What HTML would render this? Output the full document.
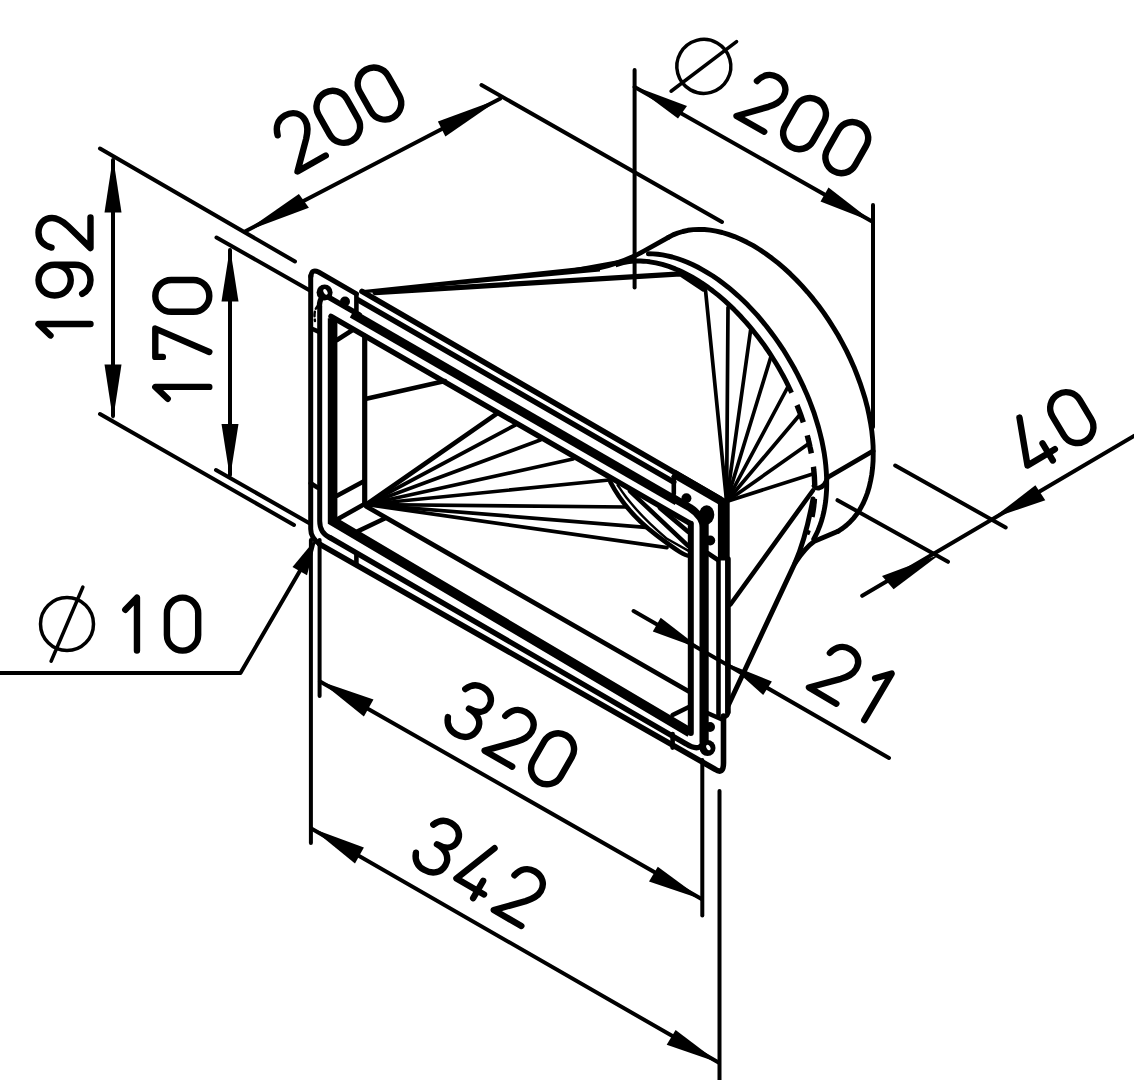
<!DOCTYPE html>
<html><head><meta charset="utf-8"><title>Drawing</title>
<style>
html,body{margin:0;padding:0;background:#fff;font-family:"Liberation Sans",sans-serif;}
svg{display:block;}
</style></head>
<body>
<svg width="1134" height="1080" viewBox="0 0 1134 1080" stroke="#000" fill="none">
<line x1="100.0" y1="148.5" x2="295.0" y2="261.5" stroke-width="4.0" stroke-linecap="round" />
<line x1="481.5" y1="85.0" x2="722.0" y2="222.0" stroke-width="4.0" stroke-linecap="round" />
<line x1="245.0" y1="231.5" x2="500.0" y2="98.8" stroke-width="4.0" stroke-linecap="round" />
<polygon points="245.0,231.5 298.9,194.0 308.9,207.8" fill="#000" stroke="none"/>
<polygon points="500.5,98.5 437.9,121.4 445.4,136.4" fill="#000" stroke="none"/>
<line x1="100.0" y1="414.0" x2="294.0" y2="525.0" stroke-width="4.0" stroke-linecap="round" />
<line x1="113.0" y1="160.0" x2="113.0" y2="416.0" stroke-width="4.0" stroke-linecap="round" />
<polygon points="113.0,157.0 104.5,212.5 121.5,212.5" fill="#000" stroke="none"/>
<polygon points="113.0,420.0 104.5,364.5 121.5,364.5" fill="#000" stroke="none"/>
<line x1="216.5" y1="237.5" x2="309.0" y2="290.0" stroke-width="4.0" stroke-linecap="round" />
<line x1="216.0" y1="470.0" x2="309.0" y2="523.0" stroke-width="4.0" stroke-linecap="round" />
<line x1="230.0" y1="250.0" x2="230.0" y2="475.0" stroke-width="4.0" stroke-linecap="round" />
<polygon points="230.0,247.5 221.5,301.5 238.5,301.5" fill="#000" stroke="none"/>
<polygon points="230.0,478.0 221.5,424.0 238.5,424.0" fill="#000" stroke="none"/>
<line x1="634.6" y1="70.0" x2="634.6" y2="287.5" stroke-width="4.0" stroke-linecap="round" />
<line x1="873.0" y1="205.0" x2="873.0" y2="427.0" stroke-width="4.0" stroke-linecap="round" />
<line x1="634.6" y1="87.0" x2="873.0" y2="222.0" stroke-width="4.0" stroke-linecap="round" />
<polygon points="635.0,86.5 687.0,106.0 678.0,118.5" fill="#000" stroke="none"/>
<polygon points="873.0,222.0 828.5,187.5 820.5,201.5" fill="#000" stroke="none"/>
<line x1="837.5" y1="500.2" x2="948.0" y2="561.8" stroke-width="4.0" stroke-linecap="round" />
<line x1="895.2" y1="465.5" x2="1005.7" y2="527.5" stroke-width="4.0" stroke-linecap="round" />
<line x1="862.2" y1="595.8" x2="1134.0" y2="435.9" stroke-width="4.0" stroke-linecap="round" />
<polygon points="939.7,554.6 882.0,576.0 893.6,589.2" fill="#000" stroke="none"/>
<polygon points="992.5,518.3 1035.4,485.3 1045.3,500.2" fill="#000" stroke="none"/>
<line x1="633.6" y1="611.0" x2="889.0" y2="757.9" stroke-width="4.0" stroke-linecap="round" />
<polygon points="701.5,649.3 652.8,631.5 660.7,617.7" fill="#000" stroke="none"/>
<polygon points="728.6,664.1 771.9,681.4 763.2,694.9" fill="#000" stroke="none"/>
<line x1="319.6" y1="540.0" x2="319.6" y2="696.0" stroke-width="4.0" stroke-linecap="round" />
<line x1="702.3" y1="760.0" x2="702.3" y2="915.5" stroke-width="4.0" stroke-linecap="round" />
<line x1="320.0" y1="681.5" x2="702.0" y2="899.2" stroke-width="4.0" stroke-linecap="round" />
<polygon points="320.2,681.3 373.5,699.4 363.9,716.5" fill="#000" stroke="none"/>
<polygon points="702.3,899.4 657.8,866.8 649.0,881.6" fill="#000" stroke="none"/>
<line x1="310.9" y1="540.0" x2="310.9" y2="843.0" stroke-width="4.0" stroke-linecap="round" />
<line x1="719.5" y1="791.0" x2="719.5" y2="1080.0" stroke-width="4.0" stroke-linecap="round" />
<line x1="311.3" y1="828.5" x2="719.0" y2="1062.8" stroke-width="4.0" stroke-linecap="round" />
<polygon points="311.7,828.3 363.9,847.5 355.0,863.5" fill="#000" stroke="none"/>
<polygon points="718.9,1062.8 675.6,1030.0 666.7,1044.8" fill="#000" stroke="none"/>
<path d="M0,673 L240.5,673 L301,569" stroke-width="4.0" stroke-linecap="butt" stroke-linejoin="round" fill="none" />
<polygon points="316.8,537.8 292.5,567.0 307.0,575.2" fill="#000" stroke="none"/>
<g transform="translate(297.5,171.5) rotate(-29.5) scale(5.500)" fill="none" stroke-width="1.164" stroke-linecap="round" stroke-linejoin="round"><path transform="translate(0,-10)" d="M0.1,2.5 C0.5,0.9 1.6,0 3.0,0 C4.7,0 5.8,1.1 5.8,2.6 C5.8,3.8 5.2,4.6 4.3,5.6 L0,10 L5.9,10"/><path transform="translate(8.4,-10)" d="M0,2.95 A2.95,2.95 0 0 1 5.9,2.95 L5.9,7.05 A2.95,2.95 0 0 1 0,7.05 Z"/><path transform="translate(17.0,-10)" d="M0,2.95 A2.95,2.95 0 0 1 5.9,2.95 L5.9,7.05 A2.95,2.95 0 0 1 0,7.05 Z"/></g>
<g transform="translate(90.5,338.6) rotate(-90) scale(5.200)" fill="none" stroke-width="1.231" stroke-linecap="round" stroke-linejoin="round"><path transform="translate(0,-10)" d="M0.6,2.3 L2.8,0 L2.8,10"/><path transform="translate(8.3,-10)" d="M5.9,3.1 C5.9,1.3 4.6,0 2.95,0 C1.3,0 0,1.3 0,3.1 C0,4.9 1.3,6.2 2.95,6.2 C4.6,6.2 5.9,4.9 5.9,3.1 L5.9,7 C5.9,8.8 4.7,10 2.95,10 C1.7,10 0.8,9.4 0.3,8.4"/><path transform="translate(17.4,-10)" d="M0.1,2.5 C0.5,0.9 1.6,0 3.0,0 C4.7,0 5.8,1.1 5.8,2.6 C5.8,3.8 5.2,4.6 4.3,5.6 L0,10 L5.9,10"/></g>
<g transform="translate(209.3,402.0) rotate(-90) scale(5.400)" fill="none" stroke-width="1.185" stroke-linecap="round" stroke-linejoin="round"><path transform="translate(0,-10)" d="M0.6,2.3 L2.8,0 L2.8,10"/><path transform="translate(8.35,-10)" d="M0,1.4 L0,0 L5.25,0 L0.9,10"/><path transform="translate(16.7,-10)" d="M0,2.95 A2.95,2.95 0 0 1 5.9,2.95 L5.9,7.05 A2.95,2.95 0 0 1 0,7.05 Z"/></g>
<g transform="translate(736.5,116.0) rotate(29.6) scale(5.400)" fill="none" stroke-width="1.185" stroke-linecap="round" stroke-linejoin="round"><path transform="translate(-14.8,-10)" d="M0,5 A5,5 0 1 1 10,5 A5,5 0 1 1 0,5 Z M2.0,12.0 L8.0,-2.0" stroke-width="0.648"/><path transform="translate(0,-10)" d="M0.1,2.5 C0.5,0.9 1.6,0 3.0,0 C4.7,0 5.8,1.1 5.8,2.6 C5.8,3.8 5.2,4.6 4.3,5.6 L0,10 L5.9,10"/><path transform="translate(8.7,-10)" d="M0,2.95 A2.95,2.95 0 0 1 5.9,2.95 L5.9,7.05 A2.95,2.95 0 0 1 0,7.05 Z"/><path transform="translate(17.7,-10)" d="M0,2.95 A2.95,2.95 0 0 1 5.9,2.95 L5.9,7.05 A2.95,2.95 0 0 1 0,7.05 Z"/></g>
<g transform="translate(1032.0,473.0) rotate(-31) scale(5.400)" fill="none" stroke-width="1.185" stroke-linecap="round" stroke-linejoin="round"><path transform="translate(0,-10)" d="M3.3,0 L0,8.4 L5.9,8.4 M4.5,6.3 L4.5,10"/><path transform="translate(8.65,-10)" d="M0,2.95 A2.95,2.95 0 0 1 5.9,2.95 L5.9,7.05 A2.95,2.95 0 0 1 0,7.05 Z"/></g>
<g transform="translate(808.9,687.5) rotate(30.5) scale(5.400)" fill="none" stroke-width="1.185" stroke-linecap="round" stroke-linejoin="round"><path transform="translate(0,-10)" d="M0.1,2.5 C0.5,0.9 1.6,0 3.0,0 C4.7,0 5.8,1.1 5.8,2.6 C5.8,3.8 5.2,4.6 4.3,5.6 L0,10 L5.9,10"/><path transform="translate(9.1,-10)" d="M0.6,2.3 L2.8,0 L2.8,10"/></g>
<g transform="translate(442.5,726.4) rotate(30) scale(5.400)" fill="none" stroke-width="1.185" stroke-linecap="round" stroke-linejoin="round"><path transform="translate(0,-10)" d="M0.2,1.9 C0.7,0.7 1.7,0 2.9,0 C4.5,0 5.6,1 5.6,2.4 C5.6,3.9 4.4,4.7 2.6,4.7 C4.6,4.7 5.9,5.7 5.9,7.3 C5.9,8.9 4.7,10 2.9,10 C1.5,10 0.5,9.3 0,8"/><path transform="translate(9.0,-10)" d="M0.1,2.5 C0.5,0.9 1.6,0 3.0,0 C4.7,0 5.8,1.1 5.8,2.6 C5.8,3.8 5.2,4.6 4.3,5.6 L0,10 L5.9,10"/><path transform="translate(17.7,-10)" d="M0,2.95 A2.95,2.95 0 0 1 5.9,2.95 L5.9,7.05 A2.95,2.95 0 0 1 0,7.05 Z"/></g>
<g transform="translate(410.5,862.0) rotate(30) scale(5.400)" fill="none" stroke-width="1.185" stroke-linecap="round" stroke-linejoin="round"><path transform="translate(0,-10)" d="M0.2,1.9 C0.7,0.7 1.7,0 2.9,0 C4.5,0 5.6,1 5.6,2.4 C5.6,3.9 4.4,4.7 2.6,4.7 C4.6,4.7 5.9,5.7 5.9,7.3 C5.9,8.9 4.7,10 2.9,10 C1.5,10 0.5,9.3 0,8"/><path transform="translate(8.9,-10)" d="M3.3,0 L0,8.4 L5.9,8.4 M4.5,6.3 L4.5,10"/><path transform="translate(17.8,-10)" d="M0.1,2.5 C0.5,0.9 1.6,0 3.0,0 C4.7,0 5.8,1.1 5.8,2.6 C5.8,3.8 5.2,4.6 4.3,5.6 L0,10 L5.9,10"/></g>
<g transform="translate(40.5,650.6) rotate(0) scale(5.300)" fill="none" stroke-width="1.208" stroke-linecap="round" stroke-linejoin="round"><path transform="translate(0,-10)" d="M0,5 A5,5 0 1 1 10,5 A5,5 0 1 1 0,5 Z M2.0,12.0 L8.0,-2.0" stroke-width="0.660"/><path transform="translate(15.4,-10)" d="M0.6,2.3 L2.8,0 L2.8,10"/><path transform="translate(23.85,-10)" d="M0,2.95 A2.95,2.95 0 0 1 5.9,2.95 L5.9,7.05 A2.95,2.95 0 0 1 0,7.05 Z"/></g>
<line x1="362.0" y1="291.4" x2="724.0" y2="501.2" stroke-width="5.6" stroke-linecap="round" />
<line x1="673.3" y1="473.4" x2="720.3" y2="500.7" stroke-width="8.4" stroke-linecap="butt" />
<line x1="358.0" y1="299.8" x2="673.8" y2="482.1" stroke-width="5.4" stroke-linecap="round" />
<line x1="673.8" y1="476.5" x2="673.8" y2="494.0" stroke-width="4.6" stroke-linecap="round" />
<line x1="356.4" y1="294.0" x2="356.4" y2="311.0" stroke-width="4.6" stroke-linecap="round" />
<path d="M356.4,293.8 L318.5,272 Q311.5,268.5 310.9,276.5" stroke-width="5.0" stroke-linecap="round" stroke-linejoin="round" fill="none" />
<path d="M310.7,276 L310.7,529 Q310.7,538 320,544.4" stroke-width="5.0" stroke-linecap="round" stroke-linejoin="round" fill="none" />
<path d="M320,544.4 L715,769.2 Q723.5,775.0 723.5,763 L723.5,716" stroke-width="5.6" stroke-linecap="round" stroke-linejoin="round" fill="none" />
<line x1="312.5" y1="329.0" x2="318.0" y2="331.4" stroke-width="4.6" stroke-linecap="round" />
<line x1="310.7" y1="483.2" x2="317.6" y2="487.6" stroke-width="4.6" stroke-linecap="round" />
<line x1="718.5" y1="559.0" x2="718.5" y2="716.0" stroke-width="4.6" stroke-linecap="round" />
<line x1="727.9" y1="559.0" x2="727.9" y2="712.0" stroke-width="5.7" stroke-linecap="round" />
<path d="M727.9,712 Q727.9,717 723,717" stroke-width="4.6" stroke-linecap="round" stroke-linejoin="round" fill="none" />
<line x1="723.8" y1="499.0" x2="723.8" y2="560.5" stroke-width="11.8" stroke-linecap="butt" />
<line x1="707.5" y1="553.0" x2="718.0" y2="560.0" stroke-width="4.6" stroke-linecap="round" />
<line x1="356.4" y1="554.0" x2="356.4" y2="565.0" stroke-width="4.6" stroke-linecap="round" />
<line x1="672.6" y1="734.0" x2="672.6" y2="747.6" stroke-width="4.6" stroke-linecap="round" />
<line x1="705.0" y1="712.0" x2="721.0" y2="719.0" stroke-width="4.6" stroke-linecap="round" />
<path d="M319.7,306.8 L319.7,521 Q319.7,533 330,537.7" stroke-width="5.0" stroke-linecap="round" stroke-linejoin="round" fill="none" />
<path d="M330,537.7 L686,743.8 Q702,754.0 704.1,738" stroke-width="5.4" stroke-linecap="round" stroke-linejoin="round" fill="none" />
<path d="M319.4,306.8 Q319.4,293.6 329.3,297.6 L359.3,314.9" stroke-width="5.4" stroke-linecap="round" stroke-linejoin="round" fill="none" />
<path d="M352,313.6 L677,501.2" stroke-width="8.8" stroke-linecap="butt" stroke-linejoin="round" fill="none" />
<path d="M672,497.4 L690,507.8 Q704.1,516.9 704.1,530" stroke-width="7.6" stroke-linecap="butt" stroke-linejoin="round" fill="none" />
<line x1="704.1" y1="524.0" x2="704.1" y2="742.0" stroke-width="9.2" stroke-linecap="round" />
<path d="M332.6,318.3 L332.6,520.9 L690,732.5" stroke-width="9.6" stroke-linejoin="miter" stroke-linecap="butt" fill="none"/>
<path d="M331,316.3 L690.5,523.7" stroke-width="5.4" stroke-linecap="round" stroke-linejoin="round" fill="none" />
<line x1="690.8" y1="523.7" x2="690.8" y2="733.0" stroke-width="6.0" stroke-linecap="round" />
<line x1="364.7" y1="336.0" x2="364.7" y2="503.8" stroke-width="5.2" stroke-linecap="round" />
<line x1="337.0" y1="340.0" x2="352.6" y2="330.0" stroke-width="4.6" stroke-linecap="round" />
<line x1="337.0" y1="495.7" x2="363.9" y2="481.3" stroke-width="4.6" stroke-linecap="round" />
<line x1="337.0" y1="519.5" x2="365.0" y2="503.8" stroke-width="4.6" stroke-linecap="round" />
<line x1="366.3" y1="398.8" x2="445.0" y2="381.0" stroke-width="4.6" stroke-linecap="round" />
<line x1="366.4" y1="506.5" x2="688.9" y2="691.5" stroke-width="4.8" stroke-linecap="round" />
<line x1="357.6" y1="531.4" x2="385.2" y2="518.2" stroke-width="4.6" stroke-linecap="round" />
<line x1="672.6" y1="715.0" x2="688.9" y2="707.0" stroke-width="4.6" stroke-linecap="round" />
<line x1="366.3" y1="504.5" x2="496.5" y2="413.8" stroke-width="4.6" stroke-linecap="round" />
<line x1="366.3" y1="504.5" x2="515.3" y2="425.0" stroke-width="3.7" stroke-linecap="round" />
<line x1="366.3" y1="504.5" x2="540.3" y2="440.0" stroke-width="3.7" stroke-linecap="round" />
<line x1="366.3" y1="504.5" x2="573.0" y2="459.0" stroke-width="3.7" stroke-linecap="round" />
<line x1="366.3" y1="504.5" x2="609.2" y2="480.0" stroke-width="3.7" stroke-linecap="round" />
<line x1="366.3" y1="504.5" x2="626.4" y2="507.0" stroke-width="3.7" stroke-linecap="round" />
<line x1="366.3" y1="504.5" x2="645.8" y2="527.3" stroke-width="3.7" stroke-linecap="round" />
<line x1="366.3" y1="504.5" x2="667.0" y2="547.6" stroke-width="3.7" stroke-linecap="round" />
<path d="M610.5,482.3 Q626,512 656.4,535.2 T689,555.5" stroke-width="4.6" stroke-linecap="round" stroke-linejoin="round" fill="none" />
<path d="M617.6,485 Q634,511 667,538.8 L689,551.1" stroke-width="2.4" stroke-linecap="round" stroke-linejoin="round" fill="none" />
<line x1="630.0" y1="491.1" x2="688.1" y2="545.8" stroke-width="4.5" stroke-linecap="round" />
<line x1="660.0" y1="507.9" x2="688.1" y2="531.7" stroke-width="4.6" stroke-linecap="round" />
<circle cx="324.6" cy="292.4" r="8" fill="#000" stroke="none"/>
<ellipse cx="325.6" cy="292.4" rx="1.7999999999999998" ry="3" fill="#fff" stroke="none" transform="rotate(-30 324.6 292.4)"/>
<circle cx="345" cy="301.5" r="5" fill="#000" stroke="none"/>
<circle cx="686.4" cy="498.2" r="5" fill="#000" stroke="none"/>
<ellipse cx="706.7" cy="514.8" rx="7.6" ry="9.6" fill="#000" stroke="none"/>
<circle cx="710.2" cy="540.5" r="5" fill="#000" stroke="none"/>
<circle cx="707.5" cy="748" r="8" fill="#000" stroke="none"/>
<ellipse cx="708.5" cy="748" rx="1.7999999999999998" ry="3" fill="#fff" stroke="none" transform="rotate(-30 707.5 748)"/>
<circle cx="710" cy="727" r="5" fill="#000" stroke="none"/>
<path d="M319,305 Q313,309 315,321" stroke-width="2.4" stroke-linecap="round" stroke-linejoin="round" fill="none" stroke-dasharray="5 3"/>
<polygon points="361.0,290.3 361.5,293.6 600.0,271.6 600.0,265.0" fill="#000" stroke="none"/>
<path d="M596,268.7 Q624,262.5 644,251 L668.4,237.3" stroke-width="4.9" stroke-linecap="round" stroke-linejoin="round" fill="none" />
<path d="M560,272.6 L622,261.5" stroke-width="4.0" stroke-linecap="round" stroke-linejoin="round" fill="none" />
<path d="M375,292.6 L680.5,273.8 L703.4,289" stroke-width="5.2" stroke-linecap="round" stroke-linejoin="round" fill="none" />
<path d="M668.4,237.3 L673.0,234.9 L677.8,233.0 L682.8,231.5 L687.9,230.3 L693.3,229.6 L698.8,229.4 L704.5,229.5 L710.3,230.1 L716.2,231.1 L722.2,232.5 L728.3,234.4 L734.5,236.6 L740.7,239.2 L747.0,242.3 L753.3,245.7 L759.5,249.5 L765.8,253.7 L772.0,258.3 L778.2,263.2 L784.3,268.4 L790.3,273.9 L796.2,279.8 L802.0,285.9 L807.7,292.3 L813.2,298.9 L818.6,305.8 L823.8,312.9 L828.7,320.2 L833.5,327.7 L838.1,335.3 L842.4,343.1 L846.5,350.9 L850.3,358.9 L853.9,366.9 L857.1,375.0 L860.1,383.1 L862.8,391.2 L865.3,399.3 L867.4,407.3 L869.1,415.3 L870.6,423.2 L871.8,431.0 L872.6,438.7 L873.1,446.2 L873.2,453.5 L873.1,460.7 L872.6,467.6 L871.8,474.4 L870.6,480.8 L869.2,487.0 L867.4,493.0 L865.3,498.6 L862.9,503.9 L860.2,508.9 L857.2,513.5 L853.9,517.8 L850.3,521.7 L846.5,525.3 L842.5,528.4 L838.1,531.2" stroke-width="4.9" stroke-linecap="round" stroke-linejoin="round" fill="none" />
<path d="M838.1,531.2 L814.4,541.3 Q806,547 795,563" stroke-width="4.9" stroke-linecap="round" stroke-linejoin="round" fill="none" />
<path d="M648.4,253.8 L653.0,253.9 L657.7,254.3 L662.5,254.9 L667.3,255.8 L672.2,257.0 L677.2,258.5 L682.2,260.2 L687.3,262.2 L692.4,264.5 L697.5,267.0 L702.6,269.8 L707.7,272.8 L712.9,276.0 L718.0,279.5 L723.0,283.3 L728.1,287.2 L733.1,291.4 L738.1,295.8 L742.9,300.3 L747.8,305.1 L752.5,310.1 L757.2,315.2 L761.8,320.6 L766.2,326.0 L770.6,331.7 L774.8,337.4 L779.0,343.3 L783.0,349.3 L786.8,355.5 L790.5,361.7 L794.1,368.0 L797.5,374.4 L800.7,380.9 L803.8,387.4 L806.7,393.9 L809.4,400.5 L811.9,407.1 L814.3,413.7 L816.4,420.4 L818.4,427.0 L820.1,433.5 L821.7,440.1 L823.0,446.6 L824.2,453.0 L825.1,459.3 L825.8,465.6 L826.3,471.8 L826.6,477.9 L826.7,483.8 L826.6,489.7 L826.2,495.4 L825.7,500.9 L824.9,506.3 L823.9,511.6 L822.7,516.6 L821.3,521.5 L819.7,526.2 L817.9,530.7 L815.9,535.0 L813.7,539.1" stroke-width="4.9" stroke-linecap="round" stroke-linejoin="round" fill="none" />
<path d="M615.4,265.0 L618.0,264.1 L620.6,263.3 L623.3,262.7 L626.1,262.1 L628.9,261.6 L631.7,261.3 L634.6,261.1 L637.5,261.0 L640.5,261.0 L643.5,261.2 L646.6,261.4 L649.7,261.8 L652.8,262.3 L655.9,262.9 L659.1,263.6 L662.3,264.4 L665.5,265.4 L668.8,266.4 L672.0,267.6 L675.3,268.9 L678.6,270.3 L681.9,271.8 L685.2,273.4 L688.5,275.1 L691.8,276.9 L695.1,278.9 L698.4,280.9 L701.8,283.0 L705.1,285.3 L708.4,287.6 L711.6,290.0 L714.9,292.6 L718.2,295.2 L721.4,297.9 L724.6,300.7 L727.8,303.6 L731.0,306.6 L734.1,309.6 L737.2,312.8 L740.3,316.0 L743.3,319.3 L746.3,322.6 L749.3,326.1 L752.2,329.6 L755.1,333.2 L757.9,336.8 L760.7,340.5 L763.5,344.2 L766.1,348.0 L768.8,351.9 L771.3,355.8 L773.8,359.8 L776.3,363.8 L778.7,367.8 L781.0,371.9 L783.3,376.0 L785.5,380.1 L787.6,384.3 L789.6,388.5 L791.6,392.7" stroke-width="4.9" stroke-linecap="butt" stroke-linejoin="round" fill="none" />
<path d="M791.6,392.7 L792.8,395.3 L793.9,397.9 L795.0,400.4 L796.1,403.0 L797.2,405.6 L798.2,408.2 L799.2,410.8 L800.2,413.4 L801.1,416.0 L802.0,418.6 L802.9,421.2 L803.8,423.8 L804.6,426.4 L805.4,429.0 L806.1,431.6 L806.9,434.2 L807.6,436.7 L808.2,439.3 L808.9,441.9 L809.5,444.5 L810.0,447.0 L810.6,449.6 L811.1,452.1 L811.6,454.6 L812.0,457.2 L812.4,459.7 L812.8,462.2 L813.1,464.7 L813.5,467.1 L813.7,469.6 L814.0,472.1 L814.2,474.5 L814.4,476.9 L814.5,479.3 L814.6,481.7 L814.7,484.1 L814.8,486.4 L814.8,488.7 L814.8,491.1 L814.7,493.4 L814.6,495.6 L814.5,497.9 L814.3,500.1 L814.2,502.3 L813.9,504.5 L813.7,506.7 L813.4,508.8 L813.1,510.9 L812.7,513.0 L812.4,515.0 L811.9,517.1 L811.5,519.1 L811.0,521.1 L810.5,523.0 L809.9,524.9 L809.4,526.8 L808.8,528.7 L808.1,530.5 L807.5,532.3 L806.7,534.1" stroke-width="5.4" stroke-linecap="butt" stroke-linejoin="round" fill="none" stroke-dasharray="18.5 13.5" stroke-dashoffset="18.5"/>
<path d="M873,451 L827.5,477.5 Q825.5,486 819,488 Q816,488.5 814,486" stroke-width="4.9" stroke-linecap="round" stroke-linejoin="round" fill="none" />
<line x1="726.6" y1="501.5" x2="705.5" y2="290.1" stroke-width="3.7" stroke-linecap="round" />
<line x1="726.6" y1="501.5" x2="728.0" y2="307.6" stroke-width="3.7" stroke-linecap="round" />
<line x1="726.6" y1="501.5" x2="750.6" y2="330.2" stroke-width="3.7" stroke-linecap="round" />
<line x1="726.6" y1="501.5" x2="770.6" y2="357.7" stroke-width="3.7" stroke-linecap="round" />
<line x1="726.6" y1="501.5" x2="788.1" y2="386.5" stroke-width="3.7" stroke-linecap="round" />
<line x1="726.6" y1="501.5" x2="799.4" y2="415.3" stroke-width="3.7" stroke-linecap="round" />
<line x1="726.6" y1="501.5" x2="808.2" y2="444.1" stroke-width="3.7" stroke-linecap="round" />
<line x1="726.6" y1="501.5" x2="811.9" y2="474.2" stroke-width="3.7" stroke-linecap="round" />
<line x1="812.9" y1="490.5" x2="730.4" y2="604.5" stroke-width="4.6" stroke-linecap="round" />
<path d="M813,499 C810,515 803,545 795,563 L728.5,705" stroke-width="5.0" stroke-linecap="round" stroke-linejoin="round" fill="none" />
</svg>
</body></html>
